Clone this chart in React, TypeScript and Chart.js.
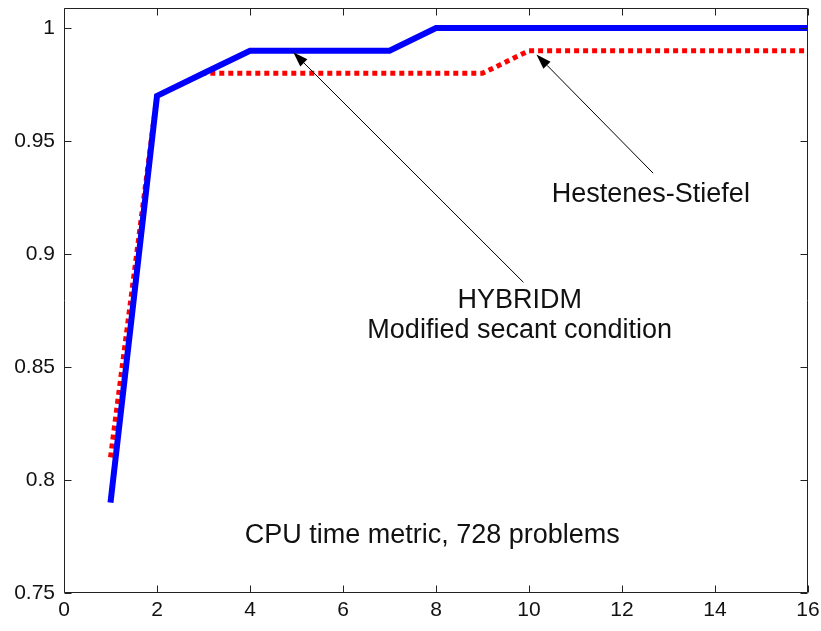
import React, { useEffect, useRef } from "react";
import { Chart, registerables } from "chart.js";

Chart.register(...registerables);

// HYBRIDM (modified secant condition)
const hybridX = [1, 2, 3, 4, 7, 8, 16];
const hybridY = [0.79, 0.97, 0.98, 0.99, 0.99, 1.0, 1.0];
// Hestenes-Stiefel
const hsX = [1, 2, 3, 9, 10, 16];
const hsY = [0.81, 0.97, 0.98, 0.98, 0.99, 0.99];

const xTicks = [0, 2, 4, 6, 8, 10, 12, 14, 16];
const yTicks = [0.75, 0.8, 0.85, 0.9, 0.95, 1];
const yTickLabels = ["0.75", "0.8", "0.85", "0.9", "0.95", "1"];

const annotationTexts = [
  { text: "Hestenes-Stiefel", x: 12.62, y: 0.9265 },
  { text: "HYBRIDM", x: 9.8, y: 0.8795 },
  { text: "Modified secant condition", x: 9.8, y: 0.866 },
  { text: "CPU time metric, 728 problems", x: 7.92, y: 0.7755 },
];
const arrows = [
  { fromX: 9.88, fromY: 0.8875, toX: 4.93, toY: 0.9893 },
  { fromX: 12.67, fromY: 0.9358, toX: 10.16, toY: 0.9883 },
];

const FONT = "'Liberation Sans', Arial, sans-serif";

const boxPlugin = {
  id: "matlabBox",
  afterDatasetsDraw(chart: any) {
    const { ctx, chartArea: a, scales } = chart;
    const xs = scales.x, ys = scales.y;
    ctx.save();
    // arrows
    ctx.strokeStyle = "#000";
    ctx.fillStyle = "#000";
    ctx.lineWidth = 1;
    for (const ar of arrows) {
      const x1 = xs.getPixelForValue(ar.fromX), y1 = ys.getPixelForValue(ar.fromY);
      const x2 = xs.getPixelForValue(ar.toX), y2 = ys.getPixelForValue(ar.toY);
      const ang = Math.atan2(y2 - y1, x2 - x1);
      const L = 15, W = 5;
      const bx = x2 - L * Math.cos(ang), by = y2 - L * Math.sin(ang);
      ctx.beginPath();
      ctx.moveTo(x1, y1);
      ctx.lineTo(bx, by);
      ctx.stroke();
      ctx.beginPath();
      ctx.moveTo(x2, y2);
      ctx.lineTo(bx + W * Math.sin(ang), by - W * Math.cos(ang));
      ctx.lineTo(bx - W * Math.sin(ang), by + W * Math.cos(ang));
      ctx.closePath();
      ctx.fill();
    }
    // texts
    ctx.font = `27px ${FONT}`;
    ctx.textAlign = "center";
    ctx.textBaseline = "middle";
    ctx.fillStyle = "#111";
    for (const t of annotationTexts) {
      ctx.fillText(t.text, xs.getPixelForValue(t.x), ys.getPixelForValue(t.y));
    }
    // box + inward ticks
    ctx.strokeStyle = "#222";
    ctx.lineWidth = 1;
    const l = Math.round(a.left) + 0.5, r = Math.round(a.right) - 0.5;
    const t = Math.round(a.top) + 0.5, b = Math.round(a.bottom) - 0.5;
    ctx.beginPath();
    ctx.rect(l, t, r - l, b - t);
    const tl = 7;
    for (const v of xTicks) {
      const px = Math.round(xs.getPixelForValue(v)) + 0.5;
      ctx.moveTo(px, b); ctx.lineTo(px, b - tl);
      ctx.moveTo(px, t); ctx.lineTo(px, t + tl);
    }
    for (const v of yTicks) {
      const py = Math.round(ys.getPixelForValue(v)) + 0.5;
      ctx.moveTo(l, py); ctx.lineTo(l + tl, py);
      ctx.moveTo(r, py); ctx.lineTo(r - tl, py);
    }
    ctx.stroke();
    ctx.restore();
  },
};

const zeroPad = (s: any) => {
  s.paddingTop = 0;
  s.paddingBottom = 0;
  s.paddingLeft = 0;
  s.paddingRight = 0;
};

export default function App() {
  const ref = useRef<HTMLCanvasElement>(null);
  useEffect(() => {
    if (!ref.current) return;
    const chart = new Chart(ref.current, {
      type: "line",
      data: {
        datasets: [
          {
            label: "Hestenes-Stiefel",
            data: hsX.map((x, i) => ({ x, y: hsY[i] })),
            borderColor: "#ff0000",
            borderWidth: 5,
            borderDash: [5, 4],
            borderCapStyle: "butt",
            pointRadius: 0,
            tension: 0,
            fill: false,
            order: 2,
          },
          {
            label: "HYBRIDM",
            data: hybridX.map((x, i) => ({ x, y: hybridY[i] })),
            borderColor: "#0000ff",
            borderWidth: 6,
            pointRadius: 0,
            tension: 0,
            fill: false,
            order: 1,
          },
        ],
      },
      options: {
        responsive: false,
        animation: false,
        events: [],
        layout: { padding: { left: 0, top: 8, right: 13, bottom: 0 } },
        plugins: { legend: { display: false }, tooltip: { enabled: false } },
        scales: {
          x: {
            type: "linear",
            min: 0,
            max: 16,
            afterBuildTicks: (s: any) => {
              s.ticks = xTicks.map((v) => ({ value: v }));
            },
            afterFit: (s: any) => {
              s.height = 38;
              zeroPad(s);
            },
            grid: { display: false, drawTicks: false },
            border: { display: false },
            ticks: {
              autoSkip: false,
              maxRotation: 0,
              padding: 5,
              color: "#111",
              font: { family: FONT, size: 21 },
              callback: (v: any) => String(v),
            },
          },
          y: {
            type: "linear",
            min: 0.75,
            max: 1.0089,
            afterBuildTicks: (s: any) => {
              s.ticks = yTicks.map((v) => ({ value: v }));
            },
            afterFit: (s: any) => {
              s.width = 64;
              zeroPad(s);
            },
            grid: { display: false, drawTicks: false },
            border: { display: false },
            ticks: {
              autoSkip: false,
              padding: 9,
              color: "#111",
              font: { family: FONT, size: 21 },
              callback: (v: any) => {
                const i = yTicks.findIndex((t) => Math.abs(t - v) < 1e-9);
                return i >= 0 ? yTickLabels[i] : "";
              },
            },
          },
        },
      },
      plugins: [boxPlugin],
    } as any);
    return () => chart.destroy();
  }, []);
  return (
    <div style={{ position: "absolute", left: 0, top: 0, width: 821, height: 631, background: "#fff" }}>
      <canvas ref={ref} width={821} height={631} style={{ display: "block" }} />
    </div>
  );
}
